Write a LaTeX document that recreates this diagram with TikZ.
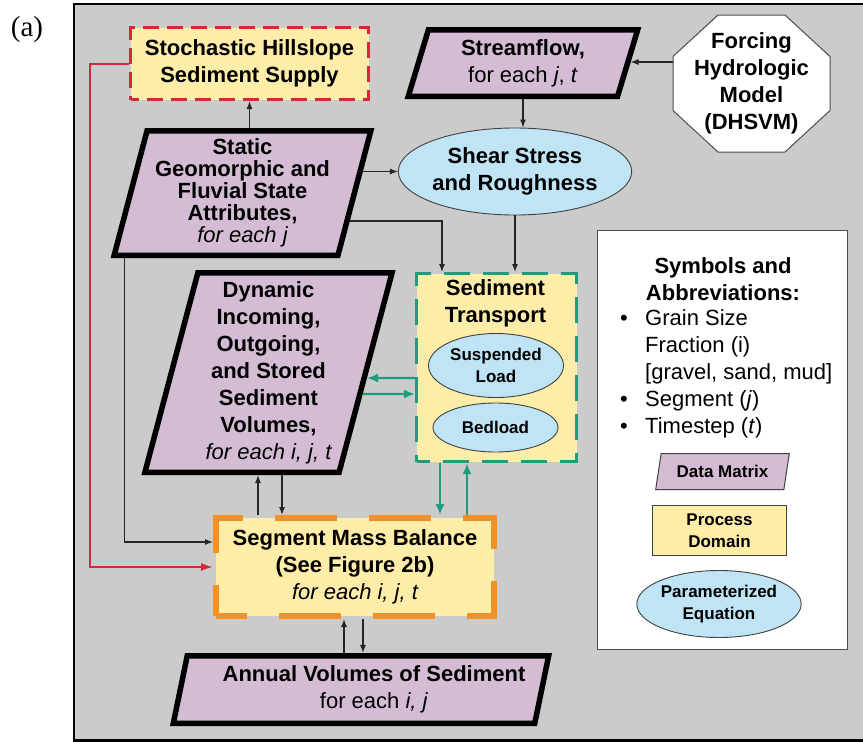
\documentclass[tikz,border=0pt]{standalone}
\usepackage{fontspec}
\setmainfont{Liberation Sans}
\newfontfamily\labelserif{Liberation Serif}
\usetikzlibrary{shapes.geometric,arrows.meta,calc}

\definecolor{panelgray}{HTML}{CBCBCB}
\definecolor{purp}{HTML}{D4BDD4}
\definecolor{yel}{HTML}{FEECA9}
\definecolor{blu}{HTML}{BFE4F6}
\definecolor{supred}{HTML}{D6283B}
\definecolor{grn}{HTML}{1E9C7C}
\definecolor{org}{HTML}{F0912A}

\tikzset{
  big/.style={font=\fontsize{22}{27}\selectfont\bfseries},
  small/.style={font=\fontsize{17}{21.5}\selectfont\bfseries},
  datamat/.style={trapezium, trapezium left angle=74.5, trapezium right angle=105.5,
    trapezium stretches=true, draw=black, line width=5.5pt, fill=purp,
    align=center, inner sep=0pt, big},
  procbox/.style={rectangle, fill=yel, align=center, inner sep=0pt},
  eqn/.style={ellipse, draw=black!75, line width=0.9pt, fill=blu, align=center, inner sep=0pt},
  arr/.style={-{Latex[length=8pt,width=6pt]}, line width=1.1pt, draw=black!85},
  garr/.style={-{Latex[length=11pt,width=9pt]}, line width=2.2pt, draw=grn},
  redarr/.style={-{Latex[length=12pt,width=8pt]}, line width=2pt, draw=supred},
}

\begin{document}
\begin{tikzpicture}[x=1pt,y=-1pt]
\useasboundingbox (0,0) rectangle (863,742);

% panel background
\draw[line width=2.5pt, fill=panelgray] (74,4) rectangle (870,740.5);
\node[font=\labelserif\fontsize{29}{29}\selectfont, inner sep=0pt] (panel) at (27,30) {(a)};

% process domains
\node[procbox, draw=supred, line width=3pt, dash pattern=on 16pt off 8pt, dash phase=8pt,
      minimum width=238pt, minimum height=72pt, big] (stoch) at (249.5,63.5)
      {Stochastic Hillslope\\Sediment Supply};

\node[procbox, draw=grn, line width=3pt, dash pattern=on 26pt off 13pt, dash phase=13pt,
      minimum width=160pt, minimum height=188pt] (st) at (496.5,367.5) {};
\node[big, align=center, inner sep=0pt] (sttitle) at (495.5,303) {Sediment\\Transport};

\node[procbox, draw=org, line width=6pt, dash pattern=on 62pt off 32pt, dash phase=31pt,
      minimum width=278pt, minimum height=98pt, big] (seg) at (355,567)
      {Segment Mass Balance\\(See Figure 2b)\\{\mdseries\itshape for each i, j, t}};

% data matrices
\node[datamat, minimum width=229.5pt, minimum height=66.5pt] (stream) at (523,63)
      {Streamflow,\\{\mdseries for each \textit{j}, \textit{t}}};
\node[datamat, minimum width=257.5pt, minimum height=124.5pt,
      font=\fontsize{22}{22}\selectfont\bfseries] (static) at (242.5,193)
      {Static\\Geomorphic and\\Fluvial State\\Attributes,\\{\mdseries\itshape for each j}};
\node[datamat, minimum width=247.5pt, minimum height=199.5pt,
      trapezium left angle=75.5, trapezium right angle=104.5] (dyn) at (268.5,372.5)
      {Dynamic\\Incoming,\\Outgoing,\\and Stored\\Sediment\\Volumes,\\{\mdseries\itshape for each i, j, t}};
\node[datamat, minimum width=376.5pt, minimum height=67.5pt] (ann) at (361,689.5)
      {\hspace*{26pt}Annual Volumes of Sediment\\{\mdseries\hspace*{26pt}for each \textit{i, j}}};

% equations
\node[eqn, minimum width=206pt, minimum height=87pt, big] (shear) at (515,171.5)
      {Shear Stress\\and Roughness};
\node[eqn, minimum width=135pt, minimum height=64pt, small] (susp) at (496,365.5)
      {Suspended\\Load};
\node[eqn, minimum width=125pt, minimum height=49pt, small] (bed) at (495.5,427.5)
      {Bedload};

% hydrologic model (octagon)
\coordinate (fc) at (751.5,83.5);
\draw[draw=black!70, line width=1pt, fill=white]
  ($(fc)+(-33.5,-68.5)$) -- ($(fc)+(33.5,-68.5)$) -- ($(fc)+(78.5,-27)$) -- ($(fc)+(78.5,27)$)
  -- ($(fc)+(33.5,68.5)$) -- ($(fc)+(-33.5,68.5)$) -- ($(fc)+(-78.5,27)$) -- ($(fc)+(-78.5,-27)$) -- cycle;
\node[big, align=center, minimum width=157pt, minimum height=137pt, inner sep=0pt, outer sep=0pt]
      (forcing) at (fc) {Forcing\\Hydrologic\\Model\\(DHSVM)};

% legend
\node[draw=black!70, fill=white, line width=1pt, minimum width=250pt, minimum height=419pt] (legend) at (722.5,440) {};
\node[big, align=center, inner sep=0pt] (legtitle) at (723,279) {Symbols and\\Abbreviations:};
\node[font=\fontsize{22}{27}\selectfont, align=left, anchor=north west, inner sep=0pt] (leglist) at (620,309)
  {\makebox[25pt][l]{\textbullet}Grain Size\\
   \hspace*{25pt}Fraction (i)\\
   \hspace*{25pt}[gravel, sand, mud]\\
   \makebox[25pt][l]{\textbullet}Segment (\textit{j})\\
   \makebox[25pt][l]{\textbullet}Timestep (\textit{t})};
\node[datamat, draw=black!75, line width=1pt, minimum width=134pt, minimum height=36pt,
      trapezium left angle=72, trapezium right angle=108, small] (legdata) at (722.5,471.5) {Data Matrix};
\node[procbox, draw=black!75, line width=1pt, minimum width=134pt, minimum height=50pt, small] (legproc) at (719.5,530.5)
      {Process\\Domain};
\node[eqn, minimum width=153pt, minimum height=67pt, small] (legeqn) at (719,604)
      {Parameterized\\Equation};

% connectors
\coordinate (redx) at (90,0);
\draw[redarr] (stoch.west) -- (stoch.west -| redx) |- (seg.west);

\draw[arr] (static.north -| stoch.south) -- (stoch.south);
\draw[arr] (shear.west -| static.east) -- (shear.west);
\coordinate (sgA) at ($(static.top right corner)!0.715!(static.bottom right corner)$);
\coordinate (stA) at ($(st.north west)+(27,0)$);
\draw[arr] (sgA) -| (stA);
\draw[arr] (shear.south) -- (shear.south |- st.north);
\draw[arr] (stream.center |- stream.south) -- (stream.center |- shear.north);
\coordinate (fcw) at ($(forcing.west)+(0,-21.5)$);
\draw[arr] (fcw) -- (fcw -| stream.east);

\coordinate (sgB) at ($(static.bottom left corner)+(14,0)$);
\draw[arr] (sgB) |- ($(seg.west)+(0,-25)$);

\coordinate (dsU) at ($(seg.north west)+(45,0)$);
\coordinate (dsD) at ($(seg.north west)+(69,0)$);
\draw[arr] (dsU) -- (dsU |- dyn.south);
\draw[arr] (dsD |- dyn.south) -- (dsD);

\coordinate (tsD) at ($(st.south west)+(25,0)$);
\coordinate (tsU) at ($(st.south west)+(52,0)$);
\draw[garr] (tsD) -- (tsD |- seg.north);
\draw[garr] (tsU |- seg.north) -- (tsU);

\coordinate (g1) at ($(st.west)+(0,10.5)$);
\coordinate (g1b) at ($(g1)+(-50,0)$);
\coordinate (g2) at ($(st.west)+(0,26.5)$);
\coordinate (g2b) at ($(g2)+(-50,0)$);
\coordinate (g1e) at (intersection of dyn.top right corner--dyn.bottom right corner and g1--g1b);
\coordinate (g2e) at (intersection of dyn.top right corner--dyn.bottom right corner and g2--g2b);
\draw[garr] (g1) -- (g1e);
\draw[garr] (g2e) -- (g2);

\coordinate (saU) at ($(seg.south west)+(131,0)$);
\coordinate (saD) at ($(seg.south west)+(150,0)$);
\draw[arr] (saU |- ann.north) -- (saU);
\draw[arr] (saD) -- (saD |- ann.north);
\end{tikzpicture}
\end{document}
